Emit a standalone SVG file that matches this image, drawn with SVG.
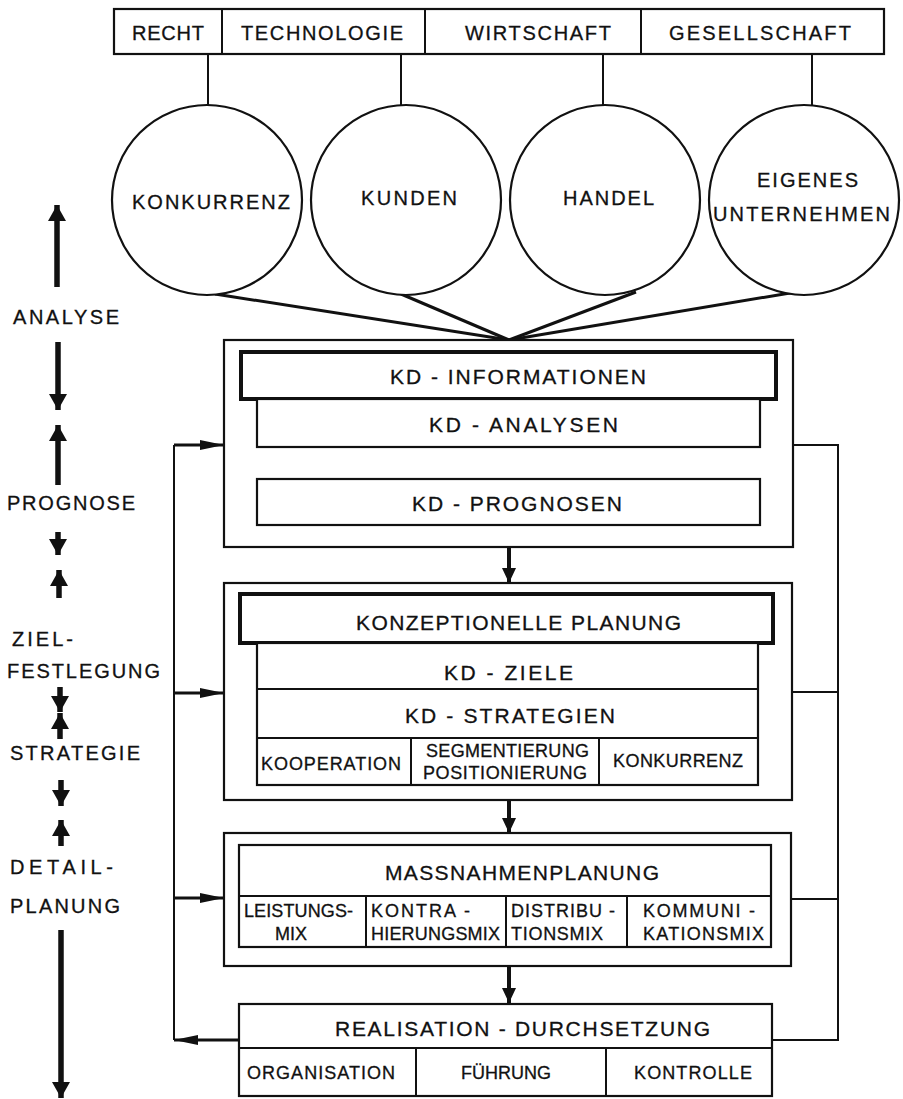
<svg xmlns="http://www.w3.org/2000/svg" width="903" height="1099" viewBox="0 0 903 1099">
<defs>
<style>
text{font-family:"Liberation Sans",Arial,sans-serif;font-size:20px;fill:#111;stroke:#111;stroke-width:0.3;}
.s{font-size:18px;}
.m{font-size:21px;}
.b{fill:#fff;stroke:#111;stroke-width:2.2;}
.t{fill:#fff;stroke:#111;stroke-width:4;}
.l{stroke:#111;stroke-width:2;fill:none;}
.k{stroke:#111;stroke-width:3;fill:none;}
.a{stroke:#111;stroke-width:4;fill:none;}
.p{stroke:#111;stroke-width:5.5;fill:none;}
</style>
<marker id="ah" viewBox="0 0 24 10" refX="24" refY="5" markerWidth="24" markerHeight="10" markerUnits="userSpaceOnUse" orient="auto"><path d="M0,0L24,5L0,10z" fill="#111"/></marker>
<marker id="av" viewBox="0 0 15 14" refX="15" refY="7" markerWidth="15" markerHeight="14" markerUnits="userSpaceOnUse" orient="auto"><path d="M0,0L15,7L0,14z" fill="#111"/></marker>
<marker id="ap" viewBox="0 0 16 18" refX="16" refY="9" markerWidth="16" markerHeight="18" markerUnits="userSpaceOnUse" orient="auto"><path d="M0,0L16,9L0,18z" fill="#111"/></marker>
</defs>
<rect width="903" height="1099" fill="#fff"/>

<g id="umwelt">
<rect class="b" x="114" y="9" width="770" height="45"/>
<line class="l" x1="222" y1="9" x2="222" y2="54"/>
<line class="l" x1="425" y1="9" x2="425" y2="54"/>
<line class="l" x1="641" y1="9" x2="641" y2="54"/>
<text x="132" y="40" textLength="72" lengthAdjust="spacing">RECHT</text>
<text x="241" y="40" textLength="162" lengthAdjust="spacing">TECHNOLOGIE</text>
<text x="465" y="40" textLength="146" lengthAdjust="spacing">WIRTSCHAFT</text>
<text x="669" y="40" textLength="182" lengthAdjust="spacing">GESELLSCHAFT</text>
</g>

<g id="connectors">
<line class="l" x1="208" y1="54" x2="208" y2="105"/>
<line class="l" x1="401" y1="54" x2="401" y2="105"/>
<line class="l" x1="603" y1="54" x2="603" y2="105"/>
<line class="l" x1="812" y1="54" x2="812" y2="105"/>
<line class="k" x1="215" y1="294" x2="509" y2="340"/>
<line class="k" x1="401" y1="294" x2="509" y2="340"/>
<line class="k" x1="636" y1="292" x2="509" y2="340"/>
<line class="k" x1="796" y1="292" x2="509" y2="340"/>
<line class="a" x1="509" y1="447" x2="509" y2="479" marker-end="url(#av)"/>
<line class="a" x1="509" y1="547" x2="509" y2="583" marker-end="url(#av)"/>
<line class="a" x1="509" y1="800" x2="509" y2="833" marker-end="url(#av)"/>
<line class="a" x1="509" y1="966" x2="509" y2="1003" marker-end="url(#av)"/>
<line class="k" x1="239" y1="1040" x2="174" y2="1040" marker-end="url(#ah)"/>
<polyline class="l" points="174,1040 174,445"/>
<line class="k" x1="174" y1="445" x2="224" y2="445" marker-end="url(#ah)"/>
<line class="k" x1="174" y1="693" x2="224" y2="693" marker-end="url(#ah)"/>
<line class="k" x1="174" y1="898" x2="224" y2="898" marker-end="url(#ah)"/>
<polyline class="l" points="793,445 838,445 838,1040 772,1040"/>
<line class="l" x1="792" y1="692" x2="838" y2="692"/>
<line class="l" x1="791" y1="899" x2="838" y2="899"/>
</g>

<g id="konkurrenz"><circle class="b" cx="207" cy="200" r="95"/><text x="132" y="209" textLength="158" lengthAdjust="spacing">KONKURRENZ</text></g>
<g id="kunden"><circle class="b" cx="406" cy="200" r="95"/><text x="361" y="205" textLength="96" lengthAdjust="spacing">KUNDEN</text></g>
<g id="handel"><circle class="b" cx="605" cy="200" r="95"/><text x="563" y="205" textLength="91" lengthAdjust="spacing">HANDEL</text></g>
<g id="eigenes"><circle class="b" cx="804" cy="200" r="95"/><text x="757" y="187" textLength="101" lengthAdjust="spacing">EIGENES</text><text x="713" y="221" textLength="177" lengthAdjust="spacing">UNTERNEHMEN</text></g>

<g id="phase-analyse">
<rect class="b" x="224" y="340" width="569" height="207"/>
<rect class="t" x="241" y="352" width="535" height="47"/>
<text class="m" x="390" y="383.5" textLength="256" lengthAdjust="spacing">KD - INFORMATIONEN</text>
<rect class="b" x="257" y="399" width="503" height="48"/>
<text class="m" x="429" y="431.5" textLength="189" lengthAdjust="spacing">KD - ANALYSEN</text>
<rect class="b" x="257" y="479" width="503" height="46"/>
<text class="m" x="412" y="510.5" textLength="210" lengthAdjust="spacing">KD - PROGNOSEN</text>
</g>

<g id="phase-planung">
<rect class="b" x="224" y="583" width="568" height="217"/>
<rect class="t" x="240" y="594" width="533" height="49"/>
<text class="m" x="356" y="629.5" textLength="325" lengthAdjust="spacing">KONZEPTIONELLE PLANUNG</text>
<rect class="b" x="257" y="643" width="501" height="142"/>
<line class="l" x1="257" y1="689" x2="758" y2="689"/>
<line class="l" x1="257" y1="738" x2="758" y2="738"/>
<line class="l" x1="411" y1="738" x2="411" y2="785"/>
<line class="l" x1="599" y1="738" x2="599" y2="785"/>
<text class="m" x="444" y="679.5" textLength="129" lengthAdjust="spacing">KD - ZIELE</text>
<text class="m" x="405" y="722.5" textLength="210" lengthAdjust="spacing">KD - STRATEGIEN</text>
<text class="s" x="261" y="769.5" textLength="140" lengthAdjust="spacing">KOOPERATION</text>
<text class="s" x="426" y="756.5" textLength="163" lengthAdjust="spacing">SEGMENTIERUNG</text>
<text class="s" x="423" y="778.5" textLength="164" lengthAdjust="spacing">POSITIONIERUNG</text>
<text class="s" x="613" y="766.5" textLength="130" lengthAdjust="spacing">KONKURRENZ</text>
</g>

<g id="phase-massnahmen">
<rect class="b" x="224" y="833" width="567" height="133"/>
<rect class="b" x="239" y="845" width="532" height="102" stroke-width="3"/>
<line class="l" x1="239" y1="896" x2="771" y2="896"/>
<line class="l" x1="366" y1="896" x2="366" y2="947"/>
<line class="l" x1="506" y1="896" x2="506" y2="947"/>
<line class="l" x1="627" y1="896" x2="627" y2="947"/>
<text class="m" x="385" y="879.5" textLength="274" lengthAdjust="spacing">MASSNAHMENPLANUNG</text>
<text class="s" x="244" y="916.5" textLength="109" lengthAdjust="spacing">LEISTUNGS-</text>
<text class="s" x="275" y="939.5" textLength="32" lengthAdjust="spacing">MIX</text>
<text class="s" x="371" y="916.5" textLength="99" lengthAdjust="spacing">KONTRA -</text>
<text class="s" x="371" y="939.5" textLength="129" lengthAdjust="spacing">HIERUNGSMIX</text>
<text class="s" x="511" y="916.5" textLength="104" lengthAdjust="spacing">DISTRIBU -</text>
<text class="s" x="511" y="939.5" textLength="92" lengthAdjust="spacing">TIONSMIX</text>
<text class="s" x="643" y="916.5" textLength="112" lengthAdjust="spacing">KOMMUNI -</text>
<text class="s" x="643" y="939.5" textLength="121" lengthAdjust="spacing">KATIONSMIX</text>
</g>

<g id="realisation">
<rect class="b" x="239" y="1004" width="533" height="92"/>
<line class="l" x1="239" y1="1048" x2="772" y2="1048"/>
<line class="l" x1="416" y1="1048" x2="416" y2="1096"/>
<line class="l" x1="606" y1="1048" x2="606" y2="1096"/>
<text class="m" x="335" y="1035.5" textLength="375" lengthAdjust="spacing">REALISATION - DURCHSETZUNG</text>
<text class="s" x="247" y="1078.5" textLength="148" lengthAdjust="spacing">ORGANISATION</text>
<text class="s" x="461" y="1078.5" textLength="90" lengthAdjust="spacing">FÜHRUNG</text>
<text class="s" x="634" y="1078.5" textLength="118" lengthAdjust="spacing">KONTROLLE</text>
</g>

<g id="phasen">
<line class="p" x1="57" y1="287" x2="57" y2="205" marker-end="url(#ap)"/>
<text x="13" y="324" textLength="106" lengthAdjust="spacing">ANALYSE</text>
<line class="p" x1="58" y1="342" x2="58" y2="410" marker-end="url(#ap)"/>
<line class="p" x1="58" y1="485" x2="58" y2="425" marker-end="url(#ap)"/>
<text x="7" y="510" textLength="128" lengthAdjust="spacing">PROGNOSE</text>
<line class="p" x1="58" y1="532" x2="58" y2="555" marker-end="url(#ap)"/>
<line class="p" x1="59" y1="598" x2="59" y2="570" marker-end="url(#ap)"/>
<text x="12" y="646" textLength="61" lengthAdjust="spacing">ZIEL-</text>
<text x="7" y="678" textLength="153" lengthAdjust="spacing">FESTLEGUNG</text>
<line class="p" x1="60" y1="687" x2="60" y2="712" marker-end="url(#ap)"/>
<line class="p" x1="60" y1="739" x2="60" y2="713" marker-end="url(#ap)"/>
<text x="10" y="760" textLength="130" lengthAdjust="spacing">STRATEGIE</text>
<line class="p" x1="61" y1="780" x2="61" y2="806" marker-end="url(#ap)"/>
<line class="p" x1="61" y1="846" x2="61" y2="820" marker-end="url(#ap)"/>
<text x="10" y="874" textLength="103" lengthAdjust="spacing">DETAIL-</text>
<text x="10" y="913" textLength="110" lengthAdjust="spacing">PLANUNG</text>
<line class="p" x1="61" y1="930" x2="61" y2="1098" marker-end="url(#ap)"/>
</g>
</svg>
